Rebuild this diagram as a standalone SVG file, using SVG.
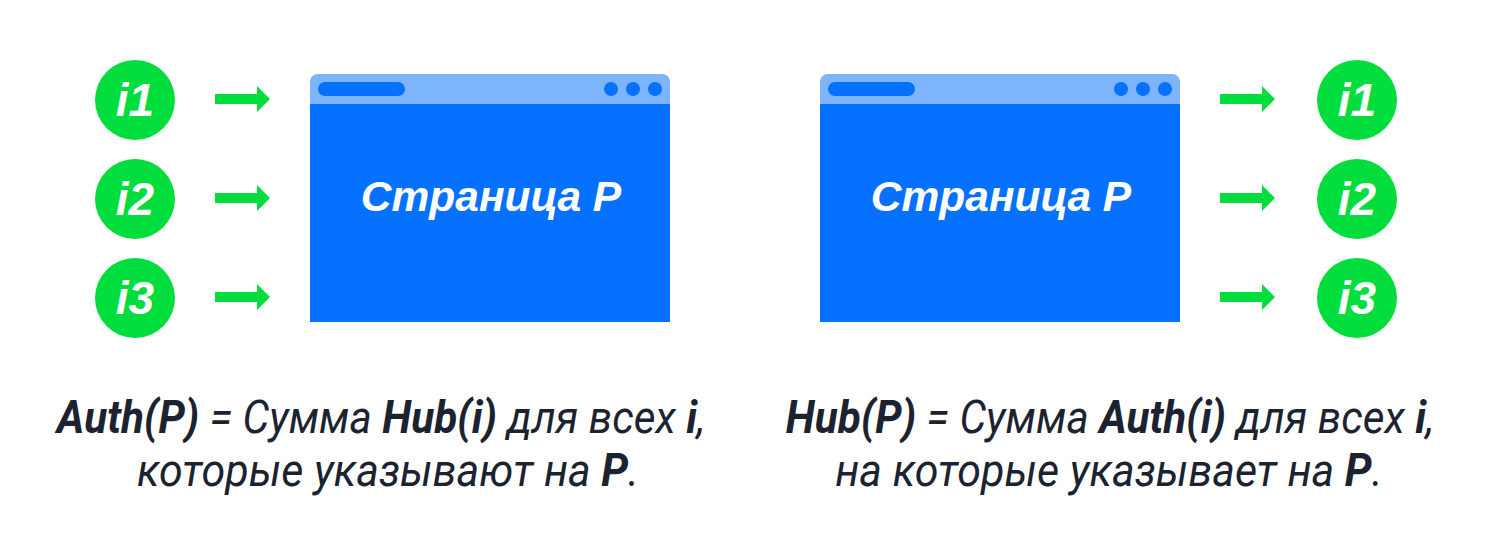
<svg xmlns="http://www.w3.org/2000/svg" width="1500" height="553" viewBox="0 0 1500 553">
<style>
.c{fill:#00dd3c}
.ct{font-family:"Liberation Sans",Arial,sans-serif;font-style:italic;font-weight:700;font-size:46px;fill:#fff;text-anchor:middle}
.bar{fill:#7db4fb}
.win{fill:#0571fe}
.pt{font-family:"Liberation Sans",Arial,sans-serif;font-style:italic;font-weight:700;font-size:42.5px;fill:#fff;text-anchor:middle}
.ar{fill:#00dd3c}
.cap{font-family:Roboto,"Noto Sans",sans-serif;font-style:italic;font-size:46px;fill:#1b2331;text-anchor:middle}
.b{font-weight:700}
</style>
<defs>
<path id="arrow" d="M0,-5 H42 V-13 L55,0 L42,13 V5 H0 Z"/>
</defs>
<g id="left-i1"><circle class="c" cx="135" cy="100" r="40"/><text class="ct" x="135" y="116">i1</text></g>
<g id="left-i2"><circle class="c" cx="135" cy="199" r="40"/><text class="ct" x="135" y="215">i2</text></g>
<g id="left-i3"><circle class="c" cx="135" cy="298" r="40"/><text class="ct" x="135" y="314">i3</text></g>
<g id="page-left">
<path class="bar" d="M310,82 a8,8 0 0 1 8,-8 H662 a8,8 0 0 1 8,8 V104 H310 Z"/>
<rect class="win" x="310" y="104" width="360" height="218"/>
<rect class="win" x="318" y="82" width="87" height="14" rx="7"/>
<circle class="win" cx="611" cy="89" r="7"/><circle class="win" cx="633" cy="89" r="7"/><circle class="win" cx="655" cy="89" r="7"/>
<text class="pt" x="491" y="211">Страница P</text>
</g>
<g id="page-right">
<path class="bar" d="M820,82 a8,8 0 0 1 8,-8 H1172 a8,8 0 0 1 8,8 V104 H820 Z"/>
<rect class="win" x="820" y="104" width="360" height="218"/>
<rect class="win" x="828" y="82" width="87" height="14" rx="7"/>
<circle class="win" cx="1121" cy="89" r="7"/><circle class="win" cx="1143" cy="89" r="7"/><circle class="win" cx="1165" cy="89" r="7"/>
<text class="pt" x="1001" y="211">Страница P</text>
</g>
<g id="right-i1"><circle class="c" cx="1357" cy="100" r="40"/><text class="ct" x="1357" y="116">i1</text></g>
<g id="right-i2"><circle class="c" cx="1357" cy="199" r="40"/><text class="ct" x="1357" y="215">i2</text></g>
<g id="right-i3"><circle class="c" cx="1357" cy="298" r="40"/><text class="ct" x="1357" y="314">i3</text></g>
<g id="connectors">
<use href="#arrow" class="ar" x="215" y="99"/>
<use href="#arrow" class="ar" x="215" y="198"/>
<use href="#arrow" class="ar" x="215" y="297"/>
<use href="#arrow" class="ar" x="1220" y="99"/>
<use href="#arrow" class="ar" x="1220" y="198"/>
<use href="#arrow" class="ar" x="1220" y="297"/>
</g>
<g id="caption-left">
<text class="cap" transform="translate(381,433) scale(0.92,1)" x="0" y="0"><tspan class="b">Auth(P)</tspan> = Сумма <tspan class="b">Hub(i)</tspan> для всех <tspan class="b">i</tspan>,</text>
<text class="cap" transform="translate(388,486) scale(0.935,1)" x="0" y="0">которые указывают на <tspan class="b">P</tspan>.</text>
</g>
<g id="caption-right">
<text class="cap" transform="translate(1110,433) scale(0.92,1)" x="0" y="0"><tspan class="b">Hub(P)</tspan> = Сумма <tspan class="b">Auth(i)</tspan> для всех <tspan class="b">i</tspan>,</text>
<text class="cap" transform="translate(1109,486) scale(0.935,1)" x="0" y="0">на которые указывает на <tspan class="b">P</tspan>.</text>
</g>
</svg>
